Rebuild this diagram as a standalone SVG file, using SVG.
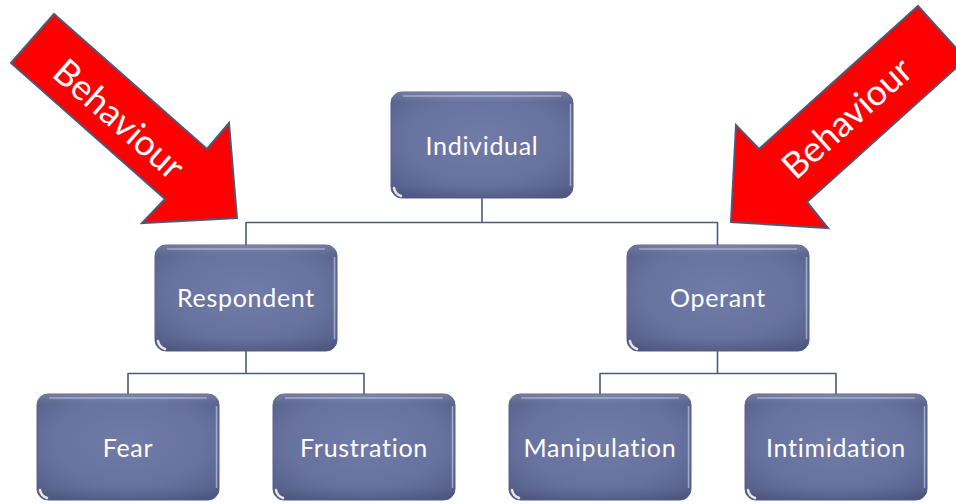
<svg xmlns="http://www.w3.org/2000/svg" width="956" height="504" viewBox="0 0 956 504">
  <style>
    .box { fill: url(#boxGrad); stroke: #56618c; stroke-width: 1; }
    .gloss { fill: none; stroke: #c9cfe6; stroke-opacity: 0.45; stroke-width: 2; }
    .rim { fill: none; stroke: #dfe3f2; stroke-opacity: 0.55; stroke-width: 1.5; }
    .shade { fill: url(#shadeGrad); }
    .label { font-family: "Lato", "Open Sans", "Liberation Sans", sans-serif; font-size: 25px; letter-spacing: 0.7px; fill: #ffffff; text-anchor: middle; dominant-baseline: central; }
    .conn { fill: none; stroke: #4d5a78; stroke-width: 1.6; }
    .arrow { fill: #ff0000; stroke: #4d5878; stroke-width: 2; stroke-linejoin: miter; }
    .atext { font-family: "Lato", "Open Sans", "Liberation Sans", sans-serif; font-size: 36px; fill: #ffffff; text-anchor: middle; dominant-baseline: central; }
  </style>
  <defs>
    <radialGradient id="boxGrad" cx="50%" cy="45%" r="70%">
      <stop offset="0" stop-color="#707ba8"/>
      <stop offset="0.6" stop-color="#67729e"/>
      <stop offset="1" stop-color="#545e88"/>
    </radialGradient>
    <linearGradient id="shadeGrad" x1="0" y1="0" x2="0" y2="1">
      <stop offset="0" stop-color="#ffffff" stop-opacity="0.15"/>
      <stop offset="0.1" stop-color="#ffffff" stop-opacity="0"/>
      <stop offset="0.88" stop-color="#000000" stop-opacity="0"/>
      <stop offset="1" stop-color="#000000" stop-opacity="0.1"/>
    </linearGradient>
    <g id="nodeShape">
      <rect class="box" x="0" y="0" width="182" height="106" rx="11" ry="11"/>
      <rect class="shade" x="0" y="0" width="182" height="106" rx="11" ry="11"/>
      <path class="gloss" d="M12 4 H170"/>
      <path class="rim" d="M179.5 12 V94"/>
      <path d="M3 96 Q4 102 10 104" fill="none" stroke="#ffffff" stroke-opacity="0.85" stroke-width="2.5" stroke-linecap="round"/>
    </g>
  </defs>

  <rect x="0" y="0" width="956" height="504" fill="#ffffff"/>

  <g id="connectors">
    <path class="conn" d="M482 198 V222.5 M246 222.5 H717.5 M246 222 V245 M717.5 222 V245"/>
    <path class="conn" d="M246 351 V373.5 M128 373.5 H364 M128 373 V394 M364 373 V394"/>
    <path class="conn" d="M717.5 351 V373.5 M600 373.5 H836 M600 373 V394 M836 373 V394"/>
  </g>

  <g id="node-individual">
    <use href="#nodeShape" x="391" y="92"/>
    <text class="label" x="482" y="145">Individual</text>
  </g>
  <g id="node-respondent">
    <use href="#nodeShape" x="155" y="245"/>
    <text class="label" x="246" y="297">Respondent</text>
  </g>
  <g id="node-operant">
    <use href="#nodeShape" x="627" y="245"/>
    <text class="label" x="718" y="297">Operant</text>
  </g>
  <g id="node-fear">
    <use href="#nodeShape" x="37" y="394"/>
    <text class="label" x="128" y="447">Fear</text>
  </g>
  <g id="node-frustration">
    <use href="#nodeShape" x="273" y="394"/>
    <text class="label" x="364" y="447">Frustration</text>
  </g>
  <g id="node-manipulation">
    <use href="#nodeShape" x="509" y="394"/>
    <text class="label" x="600" y="447">Manipulation</text>
  </g>
  <g id="node-intimidation">
    <use href="#nodeShape" x="745" y="394"/>
    <text class="label" x="836" y="447">Intimidation</text>
  </g>

  <g id="arrow-left">
    <polygon class="arrow" points="54,14 207,149 229,123 237,218 142,223 165,199 11,63"/>
    <text class="atext" transform="translate(120,118) rotate(41.4)">Behaviour</text>
  </g>
  <g id="arrow-right">
    <polygon class="arrow" points="918,6 759,149 736,125 731,222 828,228 807,202 966,59"/>
    <text class="atext" transform="translate(846,117) rotate(-42)">Behaviour</text>
  </g>
</svg>
